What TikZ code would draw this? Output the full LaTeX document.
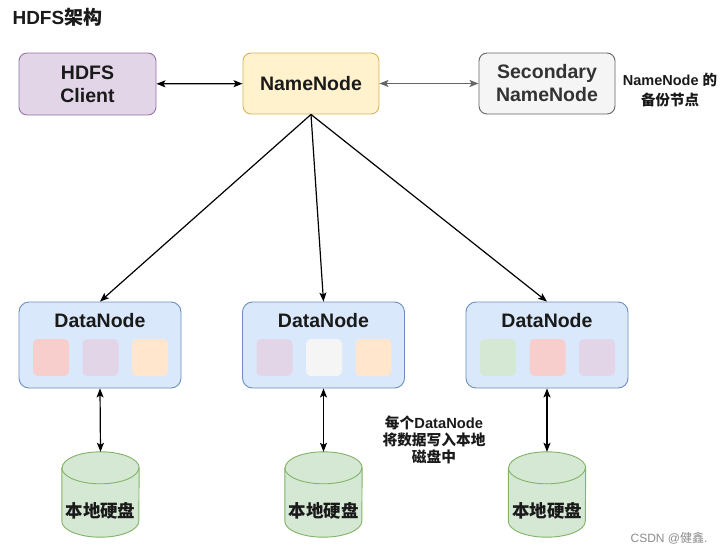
\documentclass[tikz,border=0pt]{standalone}
\usepackage{fontspec}
\setmainfont{Liberation Sans}
\newfontfamily\cjk{Noto Sans CJK SC}
\usetikzlibrary{arrows.meta,calc}
\definecolor{purpF}{HTML}{E1D5E7}\definecolor{purpD}{HTML}{9673A6}
\definecolor{yelF}{HTML}{FFF2CC}\definecolor{yelD}{HTML}{D6B656}
\definecolor{grayF}{HTML}{F5F5F5}\definecolor{grayD}{HTML}{666666}
\definecolor{blueF}{HTML}{DAE8FC}\definecolor{blueD}{HTML}{6C8EBF}
\definecolor{greenF}{HTML}{D5E8D4}\definecolor{greenD}{HTML}{82B366}
\definecolor{redF}{HTML}{F8CECC}\definecolor{oraF}{HTML}{FFE6CC}
\definecolor{txt}{HTML}{1A1A1A}
\tikzset{
  box/.style={draw, rounded corners=8pt, line width=0.9pt, align=center,
    font=\fontsize{19.5}{23}\selectfont\bfseries, text=txt, inner sep=0pt},
  dnbox/.style={draw=blueD, fill=blueF, rounded corners=10pt, line width=0.9pt,
    minimum width=162pt, minimum height=86pt, inner sep=0pt},
  dntext/.style={font=\fontsize{19.5}{23}\selectfont\bfseries, text=txt},
  blk/.style={rounded corners=5pt, minimum width=36pt, minimum height=37pt, inner sep=0pt},
  disk/.style={minimum width=77pt, minimum height=85pt, inner sep=0pt,
    font=\fontsize{17.5}{20}\selectfont\bfseries\cjk, text=txt},
  note/.style={align=center, text=txt},
  arr/.style={line width=1.2pt, -{Stealth[length=9pt,width=7pt,inset=2pt]}},
  darr/.style={line width=1.2pt, {Stealth[length=9pt,width=7pt,inset=2pt]}-{Stealth[length=9pt,width=7pt,inset=2pt]}},
}
\newcommand\mydisk[1]{%
  \filldraw[fill=greenF, draw=greenD, line width=0.9pt]
    ($(#1.north west)+(0,16)$) -- ($(#1.south west)+(0,-16)$)
    arc[start angle=180, end angle=360, x radius=38.5pt, y radius=16pt]
    -- ($(#1.north east)+(0,16)$)
    arc[start angle=0, end angle=180, x radius=38.5pt, y radius=16pt] -- cycle;
  \draw[draw=greenD, line width=0.9pt] ($(#1.north west)+(0,16)$)
    arc[start angle=180, end angle=360, x radius=38.5pt, y radius=16pt];
}
\begin{document}
\begin{tikzpicture}[x=1pt,y=-1pt]
\useasboundingbox[fill=white] (0,0) rectangle (724,555);

\node[anchor=west, font=\fontsize{19}{22}\selectfont\bfseries, text=txt] (title) at (9,17) {HDFS{\cjk 架构}};

\node[box, fill=purpF, draw=purpD, minimum width=137pt, minimum height=62pt] (cl) at (87.5,84) {HDFS\\Client};
\node[box, fill=yelF, draw=yelD, minimum width=136pt, minimum height=61pt] (nn) at (311,83.5) {NameNode};
\node[box, fill=grayF, draw=grayD, text=black!80, minimum width=136pt, minimum height=61pt] (sn) at (547,83.5) {Secondary\\NameNode};
\node[note, font=\fontsize{14.5}{19.5}\selectfont\bfseries] (snn) at (670,90) {NameNode {\cjk 的}\\{\cjk 备份节点}};

\draw[darr] (cl) -- (nn);
\draw[darr, draw=grayD] (nn) -- (sn);

% DataNodes
\node[dnbox] (d1) at (100,345) {};
\node[dnbox] (d2) at (323.5,345) {};
\node[dnbox] (d3) at (547,345) {};
\node[dntext] (d1t) at (100,321) {DataNode};
\node[dntext] (d2t) at (323.5,321) {DataNode};
\node[dntext] (d3t) at (547,321) {DataNode};

\node[blk, fill=redF] (b11) at (51,357.5) {};
\node[blk, fill=purpF] (b12) at (100.5,357.5) {};
\node[blk, fill=oraF] (b13) at (150,357.5) {};
\node[blk, fill=purpF] (b21) at (274.5,357.5) {};
\node[blk, fill=grayF] (b22) at (324,357.5) {};
\node[blk, fill=oraF] (b23) at (373.5,357.5) {};
\node[blk, fill=greenF] (b31) at (498,357.5) {};
\node[blk, fill=redF] (b32) at (547.5,357.5) {};
\node[blk, fill=purpF] (b33) at (597,357.5) {};

\draw[arr] (nn.south) -- (d1.north);
\draw[arr] (nn.south) -- (d2.north);
\draw[arr] (nn.south) -- (d3.north);

% disks
\node[disk] (k1) at (100.5,494.5) {};
\node[disk] (k2) at (323.5,494.5) {};
\node[disk] (k3) at (547,494.5) {};
\mydisk{k1}\mydisk{k2}\mydisk{k3}
\node[disk] (k1t) at (100.5,511) {本地硬盘};
\node[disk] (k2t) at (323.5,511) {本地硬盘};
\node[disk] (k3t) at (547,511) {本地硬盘};

\draw[darr] (d1.south) -- (k1.north);
\draw[darr] (d2.south) -- (k2.north);
\draw[darr] (d3.south) -- (k3.north);

\node[note, font=\fontsize{14.7}{17}\selectfont\bfseries] (dnn) at (434,440) {{\cjk 每个}DataNode\\{\cjk 将数据写入本地}\\{\cjk 磁盘中}};

\node[anchor=east, font=\fontsize{12}{14}\selectfont, text=black!45] (wm) at (711,538) {CSDN @{\cjk 健鑫}.};
\end{tikzpicture}
\end{document}
